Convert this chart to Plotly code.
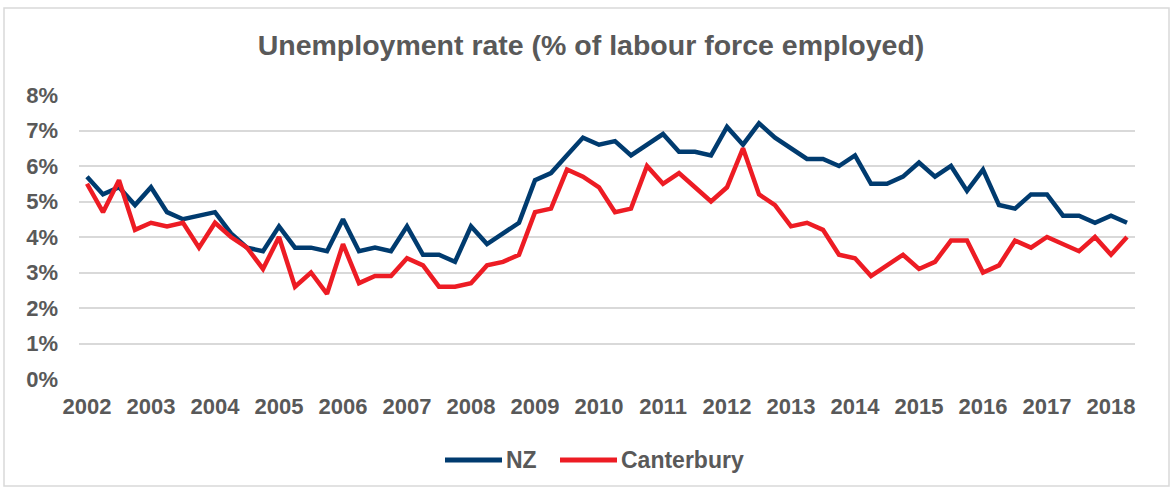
import plotly.graph_objects as go

years = list(range(2002, 2019))
quarters = [f"{y}Q{q}" for y in range(2002, 2019) for q in range(1, 5)][:66]
tick_labels = [str(y) for y in years]

nz = [5.7, 5.2, 5.4, 4.9, 5.4, 4.7, 4.5, 4.6, 4.7, 4.1, 3.7, 3.6, 4.3, 3.7, 3.7, 3.6,
      4.5, 3.6, 3.7, 3.6, 4.3, 3.5, 3.5, 3.3, 4.3, 3.8, 4.1, 4.4, 5.6, 5.8, 6.3, 6.8,
      6.6, 6.7, 6.3, 6.6, 6.9, 6.4, 6.4, 6.3, 7.1, 6.6, 7.2, 6.8, 6.5, 6.2, 6.2, 6.0,
      6.3, 5.5, 5.5, 5.7, 6.1, 5.7, 6.0, 5.3, 5.9, 4.9, 4.8, 5.2, 5.2, 4.6, 4.6, 4.4,
      4.6, 4.4]
canterbury = [5.5, 4.7, 5.6, 4.2, 4.4, 4.3, 4.4, 3.7, 4.4, 4.0, 3.7, 3.1, 4.0, 2.6, 3.0, 2.4,
              3.8, 2.7, 2.9, 2.9, 3.4, 3.2, 2.6, 2.6, 2.7, 3.2, 3.3, 3.5, 4.7, 4.8, 5.9, 5.7,
              5.4, 4.7, 4.8, 6.0, 5.5, 5.8, 5.4, 5.0, 5.4, 6.5, 5.2, 4.9, 4.3, 4.4, 4.2, 3.5,
              3.4, 2.9, 3.2, 3.5, 3.1, 3.3, 3.9, 3.9, 3.0, 3.2, 3.9, 3.7, 4.0, 3.8, 3.6, 4.0,
              3.5, 4.0]
y_ticks = [0, 1, 2, 3, 4, 5, 6, 7, 8]
series_names = ["NZ", "Canterbury"]

NAVY = "#003B6F"
RED = "#ED1C24"
GREY = "#595959"
FONT = "Liberation Sans, Arial, sans-serif"

W, H = 1172, 488
ml, mr, mt, mb = 79, 37, 95, 109
pw, ph = W - ml - mr, H - mt - mb


def px(xp):
    return (xp - ml) / pw


def py(yp):
    return ((H - mb) - yp) / ph


fig = go.Figure()
fig.add_trace(go.Scatter(x=quarters, y=nz, name=series_names[0], mode="lines",
                         line=dict(color=NAVY, width=4.5)))
fig.add_trace(go.Scatter(x=quarters, y=canterbury, name=series_names[1], mode="lines",
                         line=dict(color=RED, width=4.5)))

fig.update_layout(
    width=W, height=H,
    margin=dict(l=ml, r=mr, t=mt, b=mb),
    paper_bgcolor="white", plot_bgcolor="white",
    font=dict(family=FONT, color=GREY),
    title=dict(text="<b>Unemployment rate (% of labour force employed)</b>",
               x=591 / W, xanchor="center", y=1 - 45 / H, yanchor="middle",
               font=dict(size=28.5, color=GREY, family=FONT)),
    showlegend=False,
    xaxis=dict(type="category", range=[-0.5, 65.5],
               tickmode="array", tickvals=quarters[0::4],
               ticktext=[f"<b>{t}</b>" for t in tick_labels],
               tickfont=dict(size=22, color=GREY, family=FONT),
               showgrid=False, zeroline=False, showline=False, ticks="",
               ticklabelstandoff=12),
    yaxis=dict(range=[0, 8], tickvals=y_ticks,
               ticktext=[f"<b>{v}%</b>" for v in y_ticks],
               tickfont=dict(size=22, color=GREY, family=FONT),
               showgrid=True, gridcolor="#D9D9D9", gridwidth=2,
               zeroline=False, showline=False, ticks="",
               ticklabelstandoff=20),
)

# chart border
fig.add_shape(type="rect", xref="paper", yref="paper",
              x0=px(4), x1=px(1169), y0=py(486), y1=py(8),
              line=dict(color="#D9D9D9", width=1.5), fillcolor="rgba(0,0,0,0)",
              layer="below")

# custom legend
legend_y = py(460)
legend_items = [(series_names[0], NAVY, 445, 502, 504),
                (series_names[1], RED, 560, 617, 619)]
for name, color, x0, x1, xt in legend_items:
    fig.add_shape(type="line", xref="paper", yref="paper",
                  x0=px(x0), x1=px(x1), y0=legend_y, y1=legend_y,
                  line=dict(color=color, width=5))
    fig.add_annotation(xref="paper", yref="paper", x=px(xt), y=legend_y,
                       xanchor="left", yanchor="middle", showarrow=False,
                       text=f"<b>{name}</b>",
                       font=dict(size=23, color=GREY, family=FONT))

fig.write_html("out.html", config={"displayModeBar": False},
               post_script="document.body.style.margin='0px';")
